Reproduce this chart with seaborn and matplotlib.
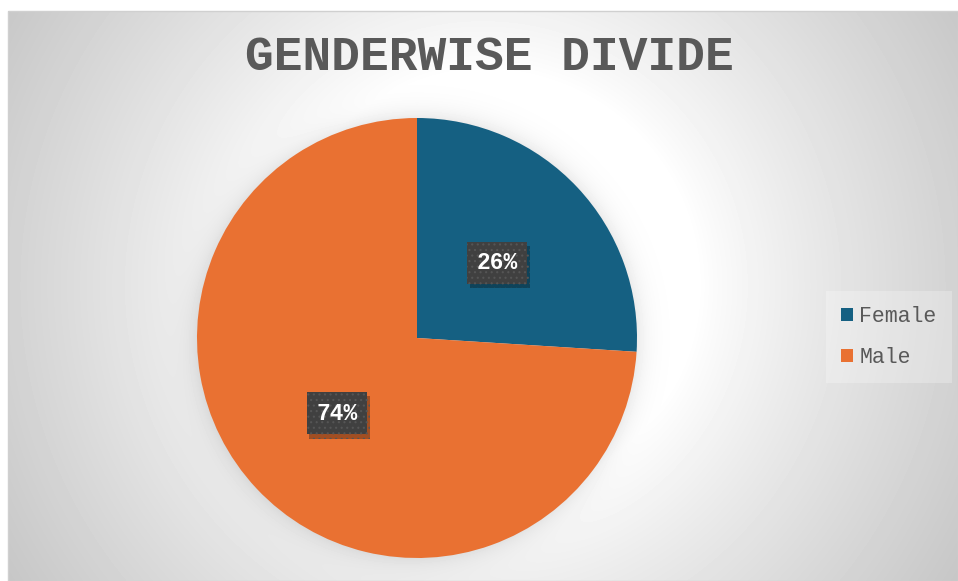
import numpy as np
import matplotlib
matplotlib.use("Agg")
import matplotlib.pyplot as plt
import matplotlib.patheffects as pe
from matplotlib.patches import Patch, Rectangle
import seaborn as sns

# Data
categories = ["Female", "Male"]
shares = [26, 74]
colors = ["#156082", "#E97132"]
title = "GENDERWISE DIVIDE"

sns.set_theme(style="white")
MONO = ["Liberation Mono", "DejaVu Sans Mono"]
plt.rcParams["font.family"] = MONO
plt.rcParams["hatch.linewidth"] = 0.8

W, H, DPI = 958, 581, 100
fig = plt.figure(figsize=(W / DPI, H / DPI), dpi=DPI, facecolor="white")

# Pie geometry in pixels (centre and radius)
pcx, pcy, pr = 417, 338, 220

# Chart area with radial grey-to-white background and a soft halo under the pie
x0, y0 = 8, 11  # top-left pixel of the chart area
bg_ax = fig.add_axes([x0 / W, 0, 1 - x0 / W, 1 - y0 / H])
bw, bh = W - x0, H - y0
yy, xx = np.mgrid[0:bh, 0:bw] + 0.5
r = np.hypot(xx - bw / 2, yy - (bh / 2 - 10))
t = np.clip((r - 215) / (555 - 215), 0, 1) ** 0.85
img = 1.0 - 0.22 * t
d = np.hypot(xx - (pcx - x0), yy - (pcy - y0)) - pr
img -= 0.08 * np.exp(-np.clip(d, 0, None) / 11.0)
bg_ax.imshow(img, cmap="gray", vmin=0, vmax=1, aspect="auto",
             extent=(0, bw, bh, 0), interpolation="bilinear")
bg_ax.set_axis_off()
fig.add_artist(Rectangle((x0 / W, 0), 1 - x0 / W, 1 - y0 / H,
                         transform=fig.transFigure, fill=False,
                         edgecolor="#d0d0d0", linewidth=1.0))

# Pie
ax = fig.add_axes([(pcx - pr) / W, (H - pcy - pr) / H, 2 * pr / W, 2 * pr / H])
ax.set_facecolor("none")
wedges, texts, autotexts = ax.pie(
    shares, colors=colors, startangle=90, counterclock=False,
    autopct="%1.0f%%", pctdistance=0.5,
    wedgeprops=dict(linewidth=0),
)
ax.set_xlim(-1, 1)
ax.set_ylim(-1, 1)
ax.set_aspect("equal")
for at in autotexts:
    at.set_family(MONO)
    at.set_fontsize(16.5)
    at.set_fontweight("bold")
    at.set_color("white")
    at.set_bbox(dict(boxstyle="square,pad=0.42", facecolor="#404040",
                     edgecolor="#555555", linewidth=0, hatch="..."))
    at.get_bbox_patch().set_path_effects(
        [pe.SimplePatchShadow(offset=(2, -3), shadow_rgbFace="black", alpha=0.3),
         pe.Normal()])

# Title
fig.text(489 / W, 1 - 57 / H, title, ha="center", va="center",
         fontsize=34.5, fontweight="bold", color="#595959", family=MONO)

# Legend
handles = [Patch(facecolor=c, edgecolor="none") for c in colors]
leg = fig.legend(handles, categories, loc="center left",
                 bbox_to_anchor=(826 / W, 1 - 337 / H),
                 frameon=True, fancybox=False, framealpha=0.25,
                 facecolor="white", edgecolor="none",
                 handlelength=0.55, handleheight=0.55, handletextpad=0.3,
                 labelspacing=0.95, borderpad=0.7, borderaxespad=0,
                 prop=dict(family=MONO, size=15.5))
for txt in leg.get_texts():
    txt.set_color("#595959")

fig.savefig("out.png", dpi=DPI, facecolor="white")
